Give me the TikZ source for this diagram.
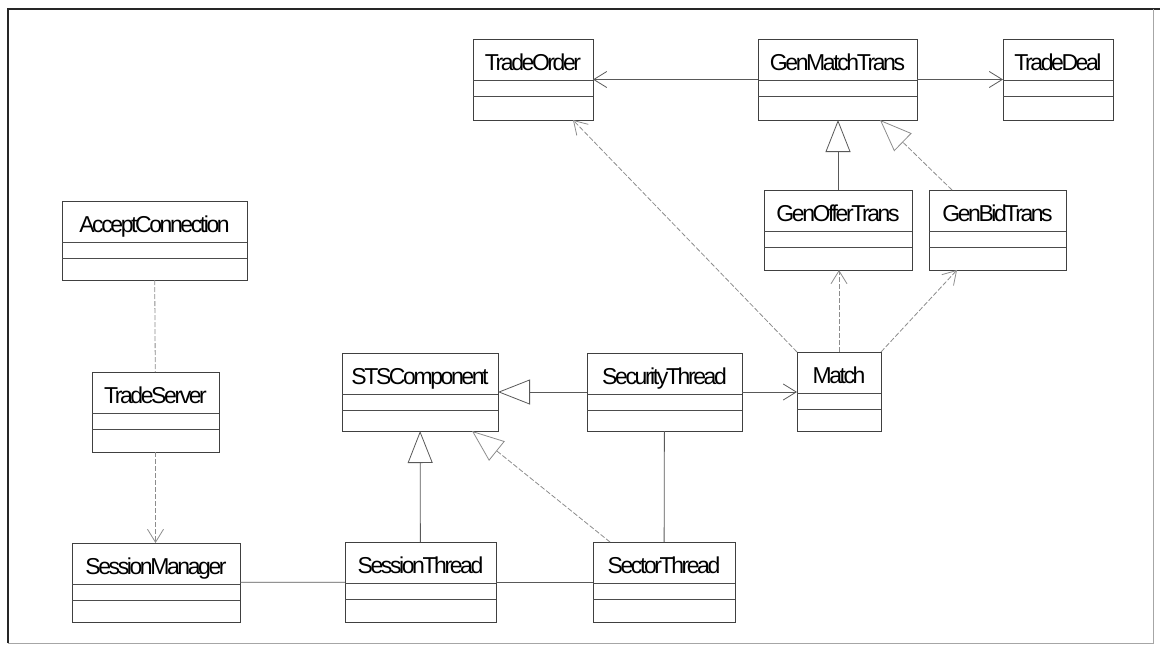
\documentclass[tikz,border=0pt]{standalone}
\usepackage{fontspec}
\setmainfont{Liberation Sans}[LetterSpace=-10.5]
\usetikzlibrary{arrows.meta}

% class box: outer frame, name compartment and two empty compartments
\newcommand{\umlclass}[6]{%
  \node[clsbox, minimum width={#4-#2}, minimum height={#5-#3}] (#1) at ({(#2+#4)/2},{(#3+#5)/2}) {};
  \node[clsname] (#1-name) at ({(#2+#4)/2},{#3+31}) {#6};
  \draw[clsline] (#1.west |- 0,{#3+41}) -- (#1.east |- 0,{#3+41});
  \draw[clsline] (#1.west |- 0,{#3+57}) -- (#1.east |- 0,{#3+57});
}

\tikzset{
  clsbox/.style={rectangle, draw=black!75, line width=0.9pt, inner sep=0pt, outer sep=0pt},
  clsname/.style={anchor=base, inner sep=0pt, font=\fontsize{23}{23}\selectfont, text=black},
  clsline/.style={draw=black!70, line width=0.9pt},
  conn/.style={draw=black!65, line width=0.8pt},
  dep/.style={conn, draw=black!45, dash pattern=on 5pt off 2pt},
  navi/.style={-{Straight Barb[length=13pt,width=16pt,line width=0.8pt]}},
  gen/.style={-{Triangle[open,length=32pt,width=25pt,fill=white,line width=0.8pt]}},
}

\begin{document}
\begin{tikzpicture}[x=1pt,y=-1pt]
  \useasboundingbox (0,0) rectangle (1160,646);

  % outer frame
  \draw[black!85, line width=2pt] (8,643) -- (8,9) -- (1160,9);
  \draw[black!35, line width=1pt] (1153,9) -- (1153,643) -- (8,643);

  % classes
  \umlclass{TradeOrder}{473}{39}{593}{120}{TradeOrder}
  \umlclass{GenMatchTrans}{758}{39}{917}{120}{GenMatchTrans}
  \umlclass{TradeDeal}{1003}{39}{1113}{120}{TradeDeal}
  \umlclass{GenOfferTrans}{764}{190}{912}{270}{GenOfferTrans}
  \umlclass{GenBidTrans}{929}{190}{1066}{270}{GenBidTrans}
  \umlclass{AcceptConnection}{62}{201}{247}{280}{AcceptConnection}
  \umlclass{TradeServer}{92}{372}{219}{452}{TradeServer}
  \umlclass{STSComponent}{342}{353}{498}{431}{STSComponent}
  \umlclass{SecurityThread}{587}{353}{742}{431}{SecurityThread}
  \umlclass{Match}{797}{352}{881}{431}{Match}
  \umlclass{SessionManager}{72}{543}{240}{622}{SessionManager}
  \umlclass{SessionThread}{345}{542}{496}{622}{SessionThread}
  \umlclass{SectorThread}{593}{542}{735}{622}{SectorThread}

  % navigable associations
  \draw[conn, navi] (GenMatchTrans) -- (TradeOrder);
  \draw[conn, navi] (GenMatchTrans) -- (TradeDeal);
  \draw[conn, navi] (SecurityThread.east) -- (Match.west |- SecurityThread.east);
  \draw[dep, navi] (Match.north) -- (Match.north |- GenOfferTrans.south);
  \draw[dep, navi] (Match.north east) -- ([xshift=28pt]GenBidTrans.south west);
  \draw[dep, navi] (Match.north west) -- ([xshift=-20pt]TradeOrder.south east);
  \draw[dep, navi] (TradeServer.south) -- (TradeServer.south |- SessionManager.north);

  % generalizations
  \draw[conn, gen] (GenOfferTrans.north) -- (GenOfferTrans.north |- GenMatchTrans.south);
  \draw[dep, gen] ([xshift=23pt]GenBidTrans.north west) -- ([xshift=-37pt]GenMatchTrans.south east);
  \draw[conn, gen] (SecurityThread) -- (STSComponent);
  \draw[conn, gen] (SessionThread) -- (STSComponent);
  \draw[dep, gen] ([xshift=17pt]SectorThread.north west) -- ([xshift=-26pt]STSComponent.south east);

  % plain associations
  \draw[dep] (AcceptConnection) -- (TradeServer);
  \draw[conn] (SecurityThread) -- (SectorThread);
  \draw[conn] (SessionManager) -- (SessionThread);
  \draw[conn] (SessionThread) -- (SectorThread);
\end{tikzpicture}
\end{document}
